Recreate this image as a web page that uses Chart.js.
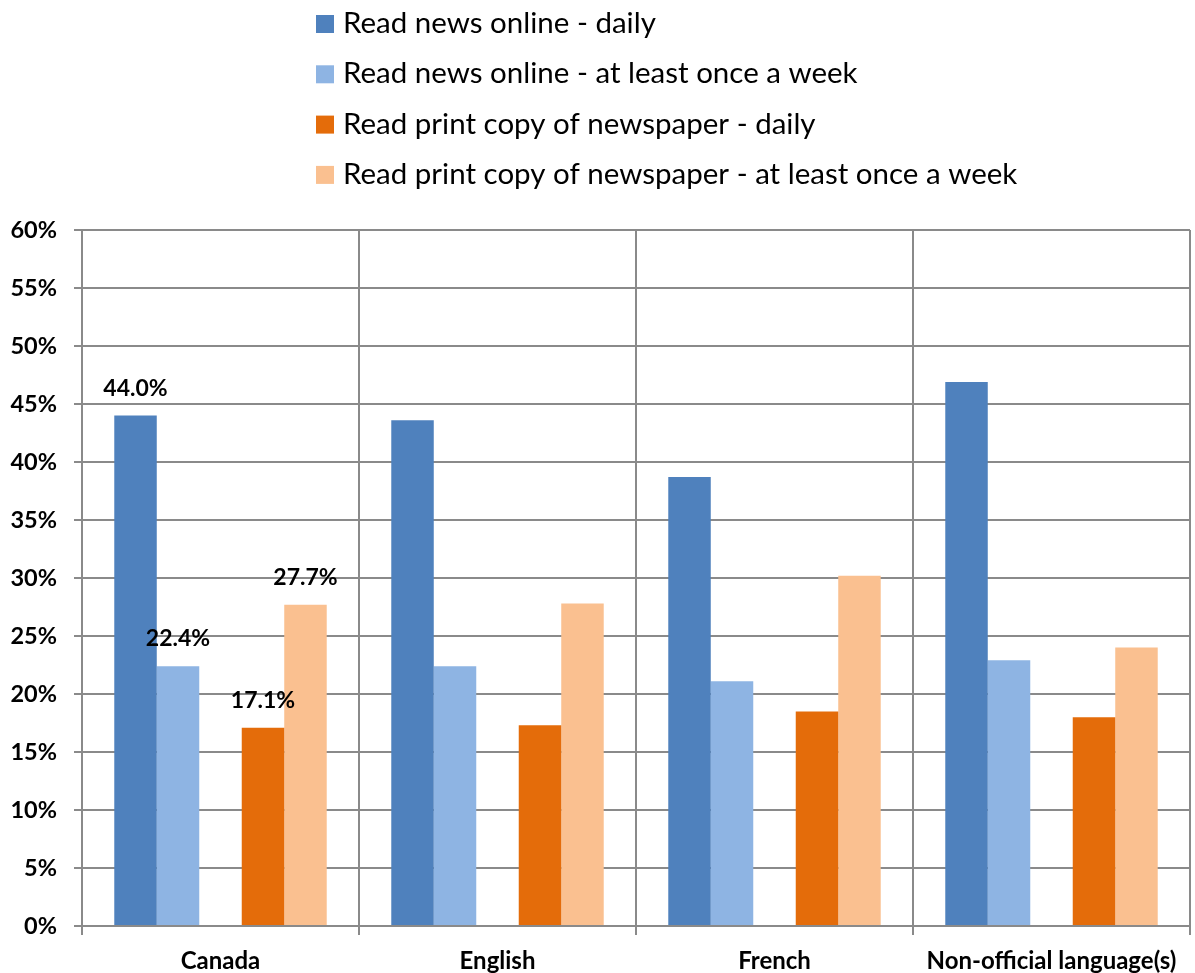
<!DOCTYPE html>
<html>
<head>
<meta charset="utf-8">
<script src="https://cdn.jsdelivr.net/npm/chart.js@4.4.1/dist/chart.umd.min.js"></script>
<style>
  html, body { margin: 0; padding: 0; background: #ffffff; }
  #wrap { width: 1195px; height: 973px; position: relative; }
</style>
</head>
<body>
<div id="wrap"><canvas id="chart"></canvas></div>
<script>
// Language groups along the x axis
const categories = ['Canada', 'English', 'French', 'Non-official language(s)'];

// Share of people reading news, by mode and frequency (%)
const onlineDaily = [44.0, 43.6, 38.7, 46.9];
const onlineWeekly = [22.4, 22.4, 21.1, 22.9];
const printDaily = [17.1, 17.3, 18.5, 18.0];
const printWeekly = [27.7, 27.8, 30.2, 24.0];

const seriesLabels = [
  'Read news online - daily',
  'Read news online - at least once a week',
  'Read print copy of newspaper - daily',
  'Read print copy of newspaper - at least once a week'
];
const seriesColors = ['#4F81BD', '#8EB4E3', '#E46C0A', '#FAC090'];

// Y axis ticks
const yTicks = [0, 5, 10, 15, 20, 25, 30, 35, 40, 45, 50, 55, 60];

// Only the first group carries value labels
const labelledIndex = 0;

const gridColor = '#8a8a8a';

// Empty spacer between online and print bars
const spacer = { label: '', data: categories.map(() => null), backgroundColor: 'rgba(0,0,0,0)', isSpacer: true };

const datasets = [
  { label: seriesLabels[0], data: onlineDaily, backgroundColor: seriesColors[0] },
  { label: seriesLabels[1], data: onlineWeekly, backgroundColor: seriesColors[1] },
  spacer,
  { label: seriesLabels[2], data: printDaily, backgroundColor: seriesColors[2] },
  { label: seriesLabels[3], data: printWeekly, backgroundColor: seriesColors[3] }
];

// Stacked legend, one entry per row, drawn on the canvas
const stackedLegend = {
  id: 'stackedLegend',
  afterDraw(chart) {
    const ctx = chart.ctx;
    ctx.save();
    ctx.font = '29.5px Lato';
    ctx.textAlign = 'left';
    ctx.textBaseline = 'alphabetic';
    let row = 0;
    chart.data.datasets.forEach(ds => {
      if (ds.isSpacer) return;
      const top = 15 + row * 50.3;
      ctx.fillStyle = ds.backgroundColor;
      ctx.fillRect(316, top, 18, 18);
      ctx.fillStyle = '#000000';
      ctx.fillText(ds.label, 343, top + 18);
      row++;
    });
    ctx.restore();
  }
};

// Value labels above the bars of one group
const valueLabels = {
  id: 'valueLabels',
  afterDatasetsDraw(chart) {
    const ctx = chart.ctx;
    ctx.save();
    ctx.font = 'bold 23px Lato';
    ctx.fillStyle = '#000000';
    ctx.textAlign = 'center';
    ctx.textBaseline = 'alphabetic';
    chart.data.datasets.forEach((ds, di) => {
      if (ds.isSpacer) return;
      const bar = chart.getDatasetMeta(di).data[labelledIndex];
      const v = ds.data[labelledIndex];
      ctx.fillText(v.toFixed(1) + '%', bar.x, bar.y - 20);
    });
    ctx.restore();
  }
};

new Chart(document.getElementById('chart'), {
  type: 'bar',
  data: { labels: categories, datasets },
  options: {
    responsive: true,
    maintainAspectRatio: false,
    animation: false,
    layout: { padding: { top: 230, right: 5, left: 0, bottom: 0 } },
    datasets: { bar: { categoryPercentage: 0.767, barPercentage: 1.0 } },
    plugins: {
      legend: { display: false },
      tooltip: { enabled: false }
    },
    scales: {
      x: {
        grid: { color: gridColor, lineWidth: 2, offset: true, drawTicks: true, tickLength: 9 },
        border: { color: gridColor, width: 2 },
        ticks: { color: '#000000', font: { family: 'Lato', weight: 'bold', size: 24 }, padding: 12, maxRotation: 0 },
        afterFit(scale) { scale.height = 47; }
      },
      y: {
        min: 0,
        max: 60,
        afterBuildTicks(scale) { scale.ticks = yTicks.map(v => ({ value: v })); },
        grid: { color: gridColor, lineWidth: 2, tickLength: 8 },
        border: { color: gridColor, width: 2 },
        ticks: { color: '#000000', font: { family: 'Lato', weight: 'bold', size: 23.5 }, padding: 17, callback: v => v + '%' },
        afterFit(scale) { scale.width = 82; }
      }
    }
  },
  plugins: [stackedLegend, valueLabels]
});
</script>
</body>
</html>
